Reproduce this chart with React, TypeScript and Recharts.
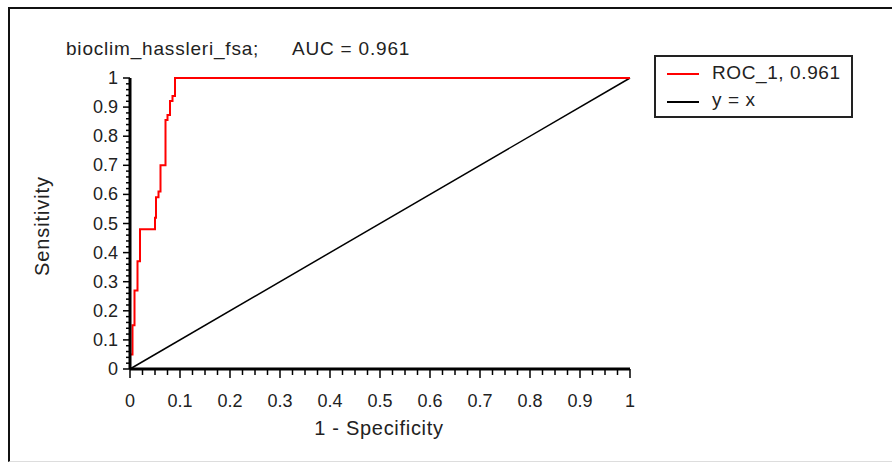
import React from 'react';
import { LineChart, Line, XAxis, YAxis } from 'recharts';

// ROC staircase
const rocFpr = [0, 0, 0.005, 0.005, 0.009, 0.009, 0.015, 0.015, 0.02, 0.02, 0.05, 0.05, 0.052, 0.052, 0.057, 0.057, 0.061, 0.061, 0.071, 0.071, 0.075, 0.075, 0.08, 0.08, 0.085, 0.085, 0.09, 0.09, 1];
const rocTpr = [0, 0.05, 0.05, 0.15, 0.15, 0.27, 0.27, 0.37, 0.37, 0.48, 0.48, 0.52, 0.52, 0.59, 0.59, 0.61, 0.61, 0.7, 0.7, 0.856, 0.856, 0.873, 0.873, 0.921, 0.921, 0.938, 0.938, 1, 1];

const diagX = [0, 1];
const diagY = [0, 1];

const xTicks = [0, 0.025, 0.05, 0.075, 0.1, 0.125, 0.15, 0.175, 0.2, 0.225, 0.25, 0.275, 0.3, 0.325, 0.35, 0.375, 0.4, 0.425, 0.45, 0.475, 0.5, 0.525, 0.55, 0.575, 0.6, 0.625, 0.65, 0.675, 0.7, 0.725, 0.75, 0.775, 0.8, 0.825, 0.85, 0.875, 0.9, 0.925, 0.95, 0.975, 1];
const yTicks = [0, 0.02, 0.04, 0.06, 0.08, 0.1, 0.12, 0.14, 0.16, 0.18, 0.2, 0.22, 0.24, 0.26, 0.28, 0.3, 0.32, 0.34, 0.36, 0.38, 0.4, 0.42, 0.44, 0.46, 0.48, 0.5, 0.52, 0.54, 0.56, 0.58, 0.6, 0.62, 0.64, 0.66, 0.68, 0.7, 0.72, 0.74, 0.76, 0.78, 0.8, 0.82, 0.84, 0.86, 0.88, 0.9, 0.92, 0.94, 0.96, 0.98, 1];

const title = 'bioclim_hassleri_fsa;';
const aucText = 'AUC = 0.961';
const rocName = 'ROC_1, 0.961';
const diagName = 'y = x';

const rocData = rocFpr.map((x, i) => ({ x, y: rocTpr[i] }));
const diagData = diagX.map((x, i) => ({ x, y: diagY[i] }));

const FONT = "Arial, 'Liberation Sans', sans-serif";

const isMajor = (v: number) => Math.abs(v * 10 - Math.round(v * 10)) < 1e-6;
const fmt = (v: number) => String(Math.round(v * 10) / 10);

const XTick = (props: any) => {
  const { x, y, payload } = props;
  const v = payload.value;
  const major = isMajor(v);
  return (
    <g>
      <line x1={x} y1={y} x2={x} y2={y + (major ? 9 : 6)} stroke="#000" strokeWidth={1.5} />
      {major && (
        <text x={x} y={y + 38} textAnchor="middle" fontSize={18} fontFamily={FONT} fill="#222">
          {fmt(v)}
        </text>
      )}
    </g>
  );
};

const YTick = (props: any) => {
  const { x, y, payload } = props;
  const v = payload.value;
  const major = isMajor(v);
  return (
    <g>
      <line x1={x} y1={y} x2={x - (major ? 7 : 4)} y2={y} stroke="#000" strokeWidth={1.5} />
      {major && (
        <text x={x - 12} y={y + 6} textAnchor="end" fontSize={18} fontFamily={FONT} fill="#222">
          {fmt(v)}
        </text>
      )}
    </g>
  );
};

export default function App() {
  return (
    <div style={{ position: 'absolute', left: 0, top: 0, width: 892, height: 462, overflow: 'hidden', background: '#fff', fontFamily: FONT }}>
      <div
        style={{
          position: 'absolute', left: 8, top: 7, width: 900, height: 455, boxSizing: 'border-box',
          borderLeft: '2px solid #111', borderTop: '2px solid #111', borderBottom: '1px solid #ddd',
        }}
      />
      <div style={{ position: 'absolute', left: 0, top: 0 }}>
        <LineChart width={892} height={462} margin={{ top: 78, right: 262, bottom: 63, left: 100 }}>
          <XAxis xAxisId="top" orientation="top" type="number" domain={[0, 1]} tick={false} tickLine={false} height={0} axisLine={{ stroke: '#000', strokeWidth: 2 }} />
          <YAxis yAxisId="right" orientation="right" type="number" domain={[0, 1]} tick={false} tickLine={false} width={0} axisLine={{ stroke: '#000', strokeWidth: 2 }} />
          <XAxis dataKey="x" type="number" domain={[0, 1]} ticks={xTicks} interval={0} tickSize={0} tickMargin={0} tickLine={false} height={30} axisLine={{ stroke: '#000', strokeWidth: 3 }} tick={<XTick />} />
          <YAxis dataKey="y" type="number" domain={[0, 1]} ticks={yTicks} interval={0} tickSize={0} tickMargin={0} tickLine={false} width={30} axisLine={{ stroke: '#000', strokeWidth: 3 }} tick={<YTick />} />
          <Line data={diagData} dataKey="y" type="linear" stroke="#000" strokeWidth={1.5} dot={false} isAnimationActive={false} />
          <Line data={rocData} dataKey="y" type="linear" stroke="#ff0000" strokeWidth={2} dot={false} isAnimationActive={false} />
        </LineChart>
      </div>
      <div style={{ position: 'absolute', left: 66, top: 38, fontSize: 19, letterSpacing: 0.8, color: '#222', whiteSpace: 'pre' }}>
        {title}
      </div>
      <div style={{ position: 'absolute', left: 292, top: 38, fontSize: 19, letterSpacing: 0.8, color: '#222', whiteSpace: 'pre' }}>
        {aucText}
      </div>
      <div style={{ position: 'absolute', left: 379, top: 428, transform: 'translate(-50%, -50%)', fontSize: 20, letterSpacing: 0.7, color: '#222', whiteSpace: 'nowrap' }}>
        1 - Specificity
      </div>
      <div style={{ position: 'absolute', left: 42, top: 226, transform: 'translate(-50%, -50%) rotate(-90deg)', fontSize: 20, letterSpacing: 0.9, color: '#222', whiteSpace: 'nowrap' }}>
        Sensitivity
      </div>
      <div style={{ position: 'absolute', left: 654, top: 55, width: 199, height: 63, boxSizing: 'border-box', border: '2px solid #222', background: '#fff' }}>
        <div style={{ position: 'absolute', left: 11, top: 16, width: 32, height: 2, background: '#ff0000' }} />
        <div style={{ position: 'absolute', left: 56, top: 5, fontSize: 19, letterSpacing: 0.6, color: '#222', whiteSpace: 'nowrap' }}>{rocName}</div>
        <div style={{ position: 'absolute', left: 11, top: 44, width: 32, height: 2, background: '#000' }} />
        <div style={{ position: 'absolute', left: 56, top: 32, fontSize: 19, letterSpacing: 0.6, color: '#222', whiteSpace: 'nowrap' }}>{diagName}</div>
      </div>
    </div>
  );
}
